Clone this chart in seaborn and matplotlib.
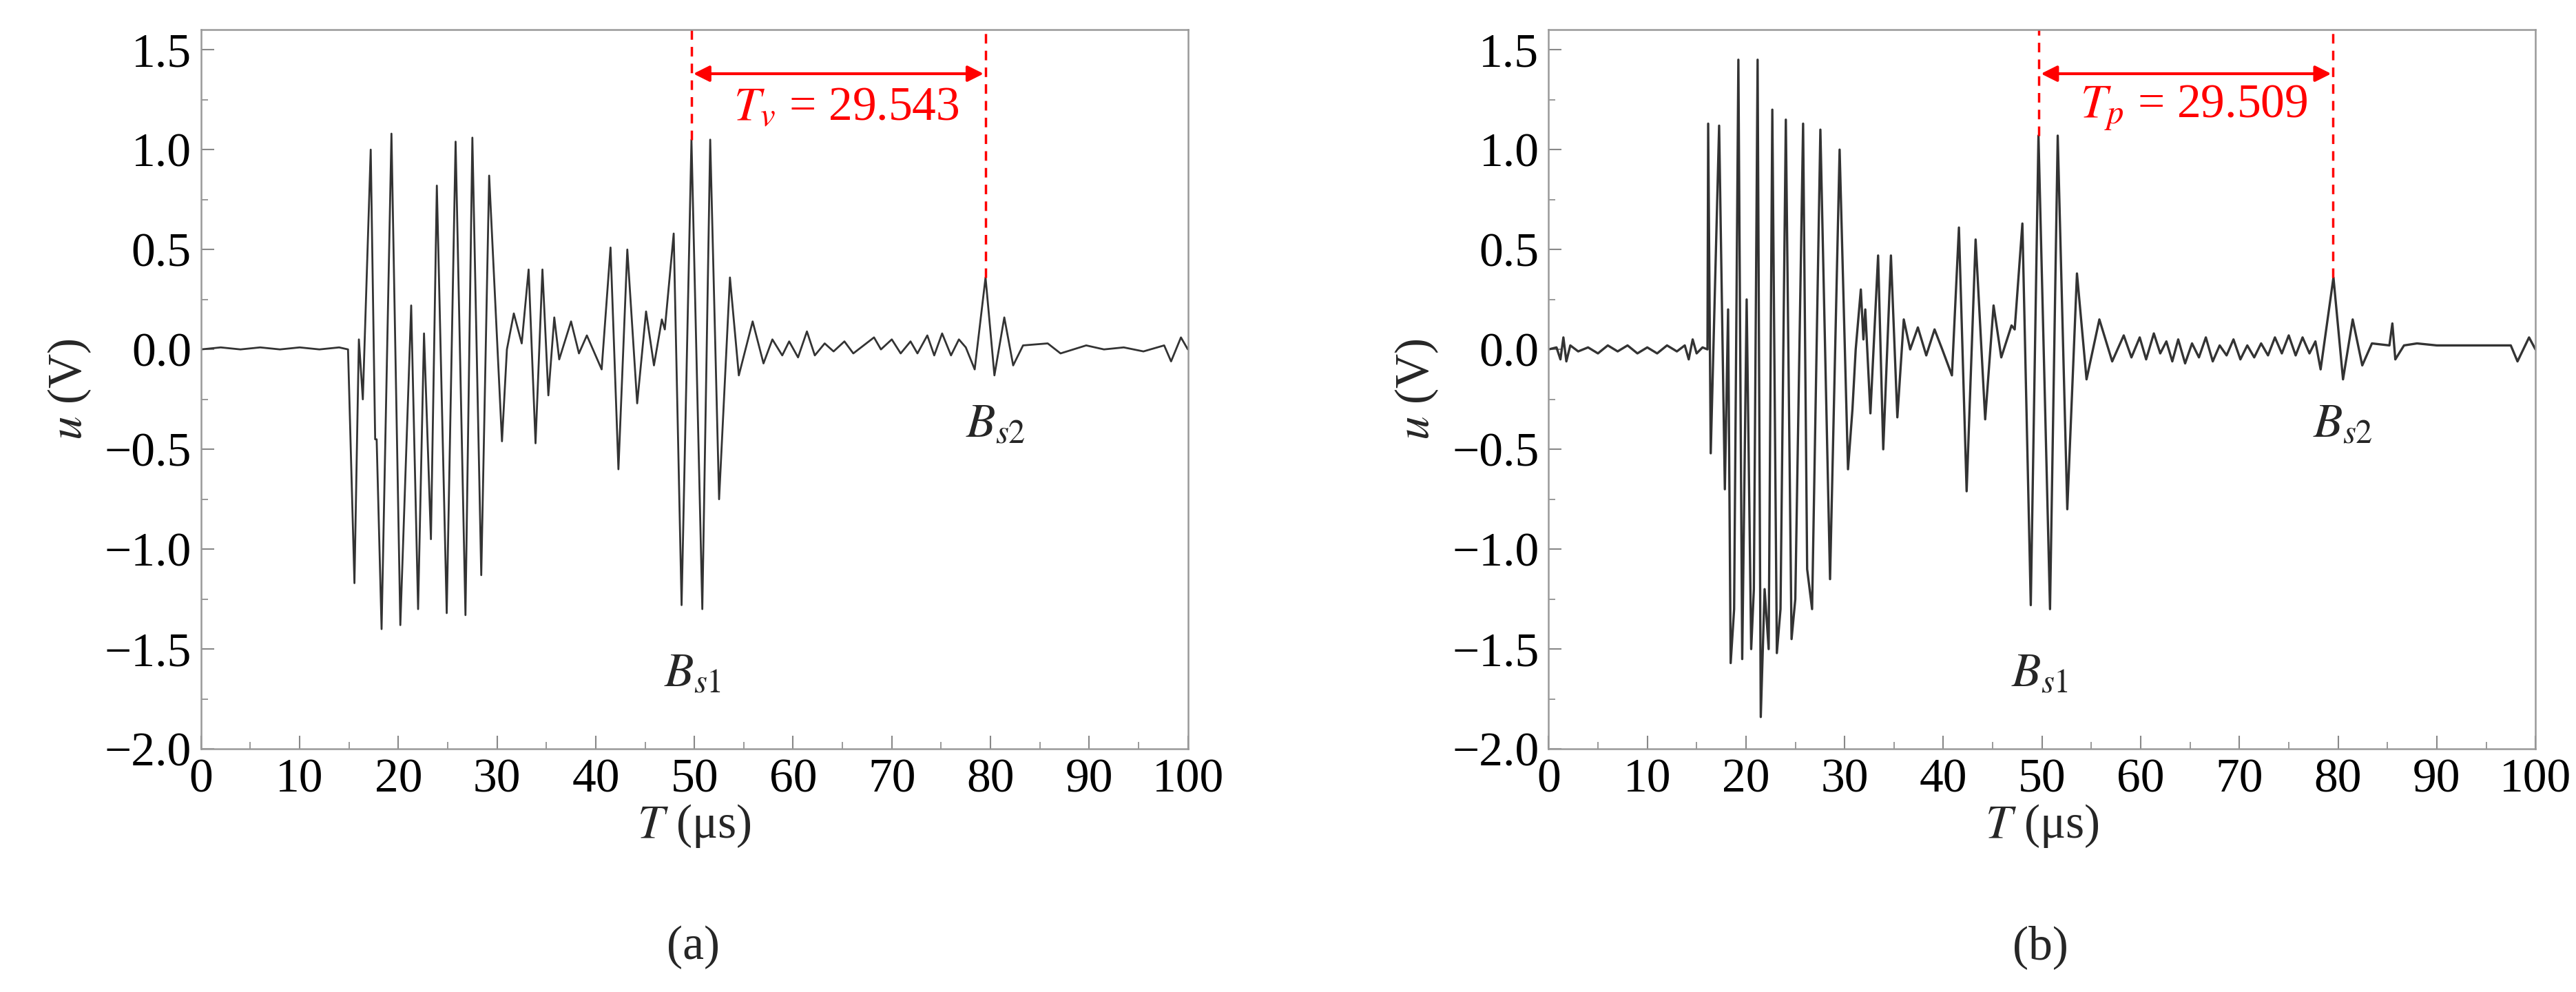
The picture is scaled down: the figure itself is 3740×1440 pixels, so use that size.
import numpy as np
import pandas as pd
import seaborn as sns
import matplotlib
matplotlib.use("Agg")
import matplotlib.pyplot as plt

# ---------- data: panel (a) ----------
t_a = [0, 2, 4, 6, 8, 10, 12, 14, 14.9, 15.55, 16.0, 16.4, 17.2, 17.65, 17.8, 18.3, 19.3, 20.2, 21.3, 22.0,
       22.6, 23.3, 23.9, 24.9, 25.8, 26.8, 27.5, 28.4, 29.2, 30.5, 31.0, 31.7, 32.5, 33.2, 33.9, 34.6,
       35.2, 35.8, 36.3, 37.5, 38.3, 39.1, 40.6, 41.5, 42.3, 43.2, 44.2, 45.1, 45.9, 46.7, 47.0, 47.9,
       48.7, 49.7, 50.8, 51.6, 52.5, 53.6, 54.5, 55.9, 57.0, 57.9, 58.9, 59.6, 60.5, 61.4, 62.2, 63.2,
       64.1, 65.2, 66.1, 68.2, 68.9, 70.0, 70.9, 71.9, 72.6, 73.6, 74.3, 75.1, 76.0, 76.8, 77.5, 78.4,
       79.5, 80.4, 81.4, 82.3, 83.3, 85.8, 87.1, 89.7, 91.5, 93.5, 95.5, 97.6, 98.3, 99.3, 100]
u_a = [0.0, 0.01, 0.0, 0.01, 0.0, 0.01, 0.0, 0.01, 0.0, -1.17, 0.05, -0.25, 1.0, -0.45, -0.45, -1.4, 1.08, -1.38, 0.22, -1.3,
       0.08, -0.95, 0.82, -1.32, 1.04, -1.33, 1.06, -1.13, 0.87, -0.46, 0.0, 0.18, 0.03, 0.4, -0.47, 0.4,
       -0.23, 0.16, -0.05, 0.14, -0.02, 0.07, -0.1, 0.51, -0.6, 0.5, -0.27, 0.19, -0.08, 0.15, 0.1, 0.58,
       -1.28, 1.05, -1.3, 1.05, -0.75, 0.36, -0.13, 0.14, -0.07, 0.05, -0.03, 0.04, -0.04, 0.09, -0.03, 0.03,
       -0.01, 0.04, -0.02, 0.06, 0.0, 0.05, -0.02, 0.04, -0.02, 0.07, -0.03, 0.08, -0.03, 0.05, 0.01, -0.1,
       0.36, -0.13, 0.16, -0.08, 0.02, 0.03, -0.02, 0.02, 0.0, 0.01, -0.01, 0.02, -0.06, 0.06, 0.0]

# ---------- data: panel (b) ----------
t_b = [0, 0.8, 1.2, 1.5, 1.8, 2.2, 3, 4, 5, 6, 7, 8, 9, 10, 11, 12, 13, 13.8, 14.2, 14.6, 15, 15.6, 16.1,
       16.17, 16.43, 17.28, 17.86, 18.19, 18.45, 18.8, 19.23, 19.62, 20.07, 20.53, 20.8, 21.18, 21.5, 21.89,
       22.3, 22.67, 23.13, 23.5, 24.04, 24.62, 25.0, 25.79, 26.2, 26.7, 27.54, 28.52, 29.49, 30.34, 30.79,
       31.12, 31.64, 31.9, 32.09, 32.61, 33.39, 33.91, 34.69, 35.34, 35.99, 36.64, 37.42, 38.27, 39.11,
       39.89, 40.87, 41.58, 42.36, 43.27, 44.24, 45.09, 45.87, 46.91, 47.23, 48.01, 48.86, 49.64, 50.81,
       51.59, 52.56, 53.54, 54.51, 55.81, 57.11, 58.28, 59.06, 59.9, 60.55, 61.33, 61.98, 62.6, 63.2, 63.8,
       64.5, 65.2, 65.9, 66.6, 67.3, 68.0, 68.7, 69.4, 70.1, 70.8, 71.5, 72.2, 72.9, 73.6, 74.3, 75.0,
       75.7, 76.4, 77.1, 77.7, 78.23, 79.53, 80.5, 81.48, 82.45, 83.43, 85.2, 85.5, 85.8, 86.68, 88, 90,
       92, 94, 96, 97.5, 98.18, 99.35, 100]
u_b = [0.0, 0.01, -0.05, 0.06, -0.06, 0.02, -0.01, 0.01, -0.02, 0.02, -0.01, 0.02, -0.02, 0.01, -0.02, 0.02, -0.01, 0.02, -0.05, 0.05, -0.02, 0.01, 0.0,
       1.13, -0.52, 1.12, -0.7, 0.2, -1.57, -1.3, 1.45, -1.55, 0.25, -1.5, -1.2, 1.45, -1.84, -1.2,
       -1.5, 1.2, -1.52, -1.3, 1.15, -1.45, -1.25, 1.13, -1.1, -1.3, 1.1, -1.15, 1.0, -0.6, -0.3,
       0.0, 0.3, 0.05, 0.2, -0.32, 0.47, -0.5, 0.47, -0.34, 0.15, 0.0, 0.11, -0.03, 0.1,
       0.0, -0.13, 0.61, -0.71, 0.55, -0.35, 0.22, -0.04, 0.12, 0.1, 0.63, -1.28, 1.07, -1.3,
       1.07, -0.8, 0.38, -0.15, 0.15, -0.06, 0.07, -0.04, 0.06, -0.05, 0.08, -0.02, 0.04, -0.06, 0.05,
       -0.07, 0.03, -0.04, 0.06, -0.06, 0.02, -0.03, 0.05, -0.05, 0.02, -0.04, 0.03, -0.03, 0.06, -0.02, 0.07,
       -0.03, 0.06, -0.02, 0.04, -0.1, 0.36, -0.15, 0.15, -0.08, 0.03, 0.02, 0.13, -0.05, 0.02, 0.03, 0.02,
       0.02, 0.02, 0.02, 0.02, -0.06, 0.06, 0.0]

x_ticks = [0, 10, 20, 30, 40, 50, 60, 70, 80, 90, 100]
y_ticks = [-2.0, -1.5, -1.0, -0.5, 0.0, 0.5, 1.0, 1.5]
marks_a = [49.7, 79.5]
marks_b = [49.7, 79.5]
peaks_a = [1.05, 0.36]
peaks_b = [1.07, 0.36]
interval_labels = [r"$T_v$ = 29.543", r"$T_p$ = 29.509"]
panel_labels = ["(a)", "(b)"]

sns.set_theme(style="white")
plt.rcParams["font.family"] = ["Liberation Serif", "Noto Sans CJK SC"]
plt.rcParams["mathtext.fontset"] = "stix"

fig = plt.figure(figsize=(37.41, 14.4), dpi=100)
axes = [fig.add_axes([0.078, 0.245, 0.383, 0.725]),
        fig.add_axes([0.601, 0.245, 0.383, 0.725])]

FS = 50
datasets = [(t_a, u_a, marks_a, peaks_a), (t_b, u_b, marks_b, peaks_b)]
for i, ax in enumerate(axes):
    t, u, marks, peaks = datasets[i]
    df = pd.DataFrame({"t": t, "u": u})
    sns.lineplot(data=df, x="t", y="u", ax=ax, color="#333333", lw=2.0 if i == 0 else 2.4,
                 estimator=None, sort=False)
    ax.set_xlim(0, 100)
    ax.set_ylim(-2.0, 1.6)
    ax.set_xticks(x_ticks)
    ax.set_yticks(y_ticks)
    ax.set_xticklabels([str(v) for v in x_ticks])
    ax.set_yticklabels([f"{v:.1f}".replace("-", "\u2212") for v in y_ticks])
    ax.set_xticks(np.arange(5, 100, 10), minor=True)
    ax.set_yticks(np.arange(-1.75, 1.6, 0.5), minor=True)
    ax.tick_params(which="both", direction="in", colors="#888888", labelcolor="black", labelsize=FS)
    ax.tick_params(which="major", length=14, width=1.5, pad=10)
    ax.tick_params(which="minor", length=7, width=1.2)
    ax.tick_params(axis="both", which="both", bottom=True, left=True)
    for s in ax.spines.values():
        s.set_color("#999999")
        s.set_linewidth(1.8)
    ax.set_xlabel(r"$T$ (μs)", fontsize=FS, labelpad=0)
    ax.set_ylabel(r"$u$ (V)", fontsize=FS, labelpad=12)
    # annotations
    for m, p in zip(marks, peaks):
        ax.plot([m, m], [p, 1.6], color="red", ls=(0, (4, 3)), lw=2.5)
    ax.annotate("", xy=(marks[1], 1.38), xytext=(marks[0], 1.38),
                arrowprops=dict(arrowstyle="<|-|>", color="red", lw=3, mutation_scale=35))
    ax.text((marks[0] + marks[1]) / 2 + 0.8, 1.21, interval_labels[i], color="red",
            fontsize=FS, ha="center", va="center")
    ax.text(49.8, -1.63, r"$B_{s1}$", fontsize=FS, ha="center", va="center")
    ax.text(80.5, -0.38, r"$B_{s2}$", fontsize=FS, ha="center", va="center")
    ax.set_facecolor("white")

fig.text(0.269, 0.045, "(a)", fontsize=FS, ha="center", va="center")
fig.text(0.792, 0.045, "(b)", fontsize=FS, ha="center", va="center")
fig.savefig("out.png", dpi=100, facecolor="white")
